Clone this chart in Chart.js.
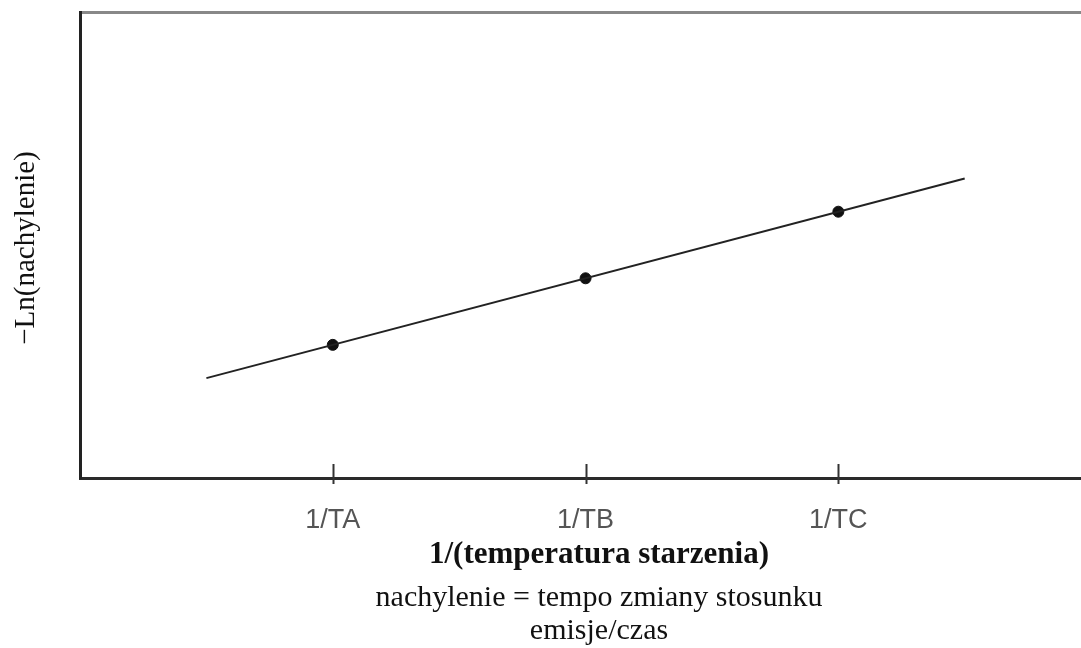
<!DOCTYPE html>
<html>
<head>
<meta charset="utf-8">
<script src="https://cdn.jsdelivr.net/npm/chart.js@4.4.1/dist/chart.umd.min.js"></script>
<style>
  body { margin: 0; background: #fff; }
  #wrap { width: 1081px; height: 648px; }
</style>
</head>
<body>
<div id="wrap"><canvas id="arrhenius" width="1081" height="648"></canvas></div>
<script>
// data
const categories = ['1/TA', '1/TB', '1/TC'];
const tickValues = [1, 2, 3];
const pointValues = [2, 3, 4];
const fitX = [0.5, 3.5];
const fitY = [1.5, 4.5];

const xTitle = '1/(temperatura starzenia)';
const noteLines = ['nachylenie = tempo zmiany stosunku', 'emisje/czas'];
const yTitle = '\u2212Ln(nachylenie)';

// tick marks that cross the bottom axis + titles
const extras = {
  id: 'extras',
  afterDraw(chart) {
    const ctx = chart.ctx;
    const x = chart.scales.x;
    const area = chart.chartArea;
    ctx.save();
    ctx.strokeStyle = '#333';
    ctx.lineWidth = 2;
    tickValues.forEach(v => {
      const px = Math.round(x.getPixelForValue(v)) + 0.5;
      ctx.beginPath();
      ctx.moveTo(px, area.bottom - 14);
      ctx.lineTo(px, area.bottom + 6);
      ctx.stroke();
    });
    ctx.fillStyle = '#111';
    ctx.textAlign = 'center';
    ctx.textBaseline = 'middle';
    const cx = 599;
    ctx.font = 'bold 31px "Liberation Serif"';
    ctx.fillText(xTitle, cx, 555);
    ctx.font = '30px "Liberation Serif"';
    ctx.fillText(noteLines[0], cx, 598);
    ctx.fillText(noteLines[1], cx, 631);
    // y title
    ctx.font = '29px "Liberation Serif"';
    ctx.textBaseline = 'alphabetic';
    ctx.translate(34, (area.top + area.bottom) / 2 + 3);
    ctx.rotate(-Math.PI / 2);
    ctx.fillText(yTitle, 0, 0);
    ctx.restore();
  }
};

new Chart(document.getElementById('arrhenius').getContext('2d'), {
  type: 'scatter',
  data: {
    datasets: [
      {
        type: 'line',
        data: fitX.map((v, i) => ({ x: v, y: fitY[i] })),
        borderColor: '#222',
        borderWidth: 2,
        pointRadius: 0,
        fill: false
      },
      {
        data: tickValues.map((v, i) => ({ x: v, y: pointValues[i] })),
        backgroundColor: '#111',
        borderColor: '#111',
        pointRadius: 5.5
      }
    ]
  },
  options: {
    responsive: false,
    animation: false,
    layout: { autoPadding: false, padding: { top: 12, right: 0, left: 0, bottom: 0 } },
    plugins: { legend: { display: false }, tooltip: { enabled: false } },
    scales: {
      x: {
        type: 'linear',
        min: 0,
        max: 3.96,
        afterBuildTicks: s => { s.ticks = tickValues.map(v => ({ value: v })); },
        afterFit: s => { s.height = 170; },
        ticks: {
          padding: 26,
          color: '#555',
          font: { family: '"Liberation Sans"', size: 27 },
          callback: v => categories[tickValues.indexOf(v)] || ''
        },
        grid: { display: false, drawTicks: false },
        border: { display: true, color: '#2a2a2a', width: 3 }
      },
      xTop: {
        type: 'linear',
        position: 'top',
        min: 0,
        max: 3.96,
        afterFit: s => { s.height = 0; },
        ticks: { display: false },
        grid: { display: false, drawTicks: false },
        border: { display: true, color: '#888', width: 3 }
      },
      y: {
        min: 0,
        max: 7,
        afterFit: s => { s.width = 80; },
        ticks: { display: false },
        grid: { display: false, drawTicks: false },
        border: { display: true, color: '#222', width: 3 }
      }
    }
  },
  plugins: [extras]
});
</script>
</body>
</html>
